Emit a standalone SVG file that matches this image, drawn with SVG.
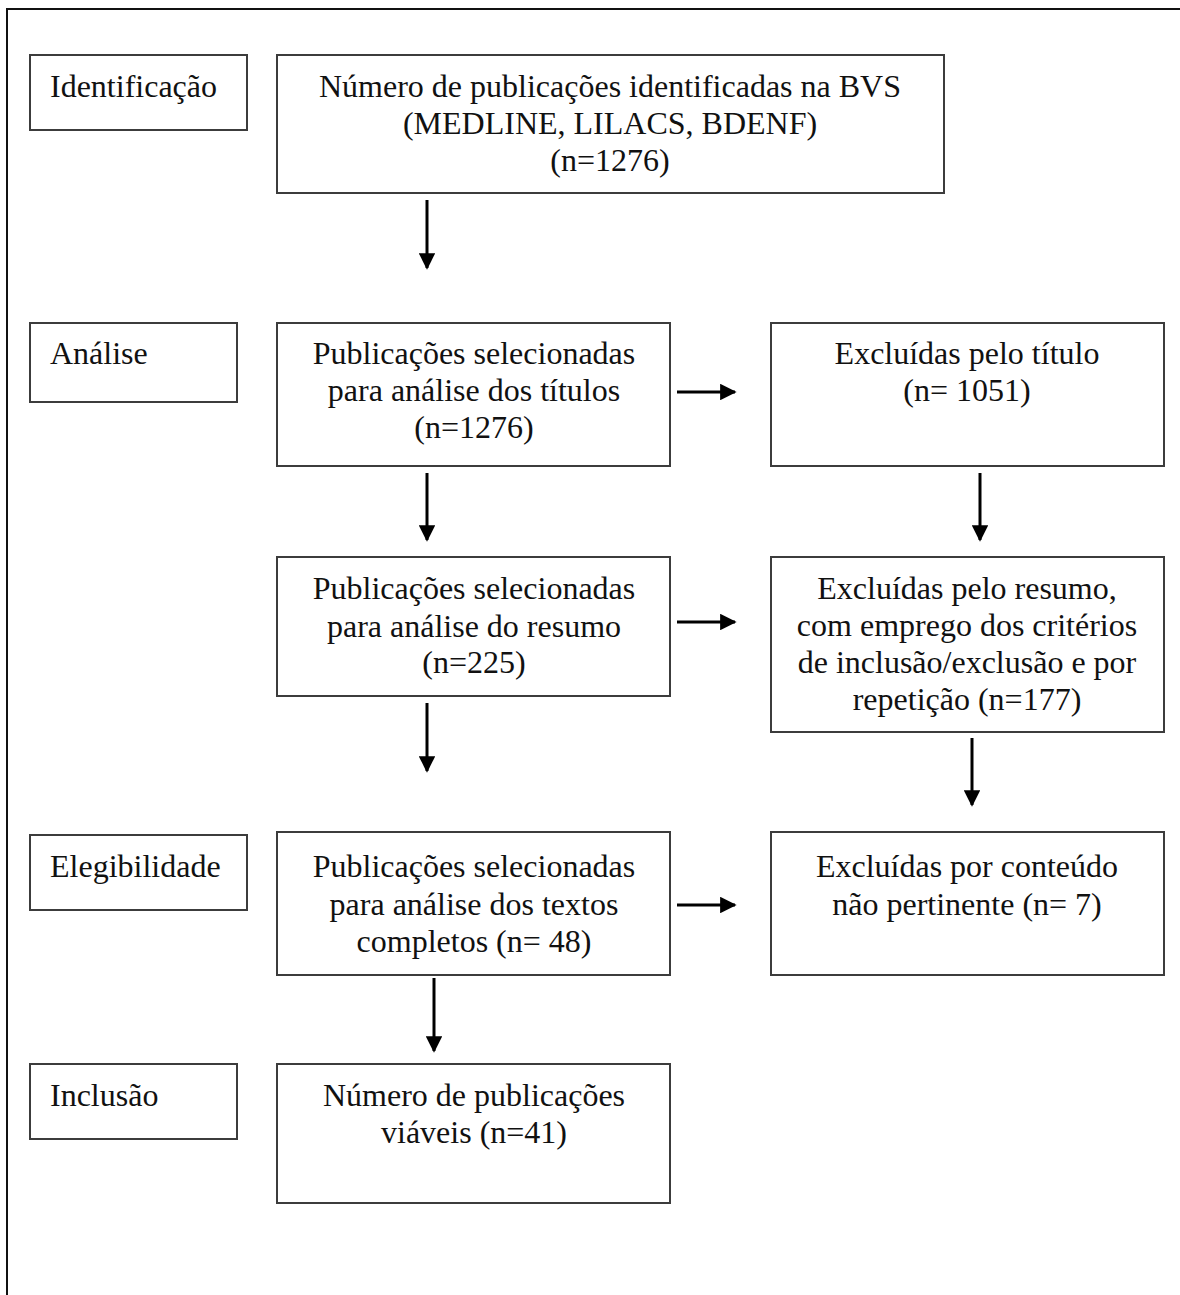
<svg xmlns="http://www.w3.org/2000/svg" width="1180" height="1295" viewBox="0 0 1180 1295">
<style>
.box{fill:#fff;stroke:#3c3c3c;stroke-width:2}
.t{font-family:"Liberation Serif","Times New Roman",serif;font-size:32px;fill:#111}
.c{text-anchor:middle}
.ln{stroke:#000;stroke-width:3;fill:none}
</style>
<defs>
<marker id="ah" viewBox="0 0 10 10" refX="9" refY="5" markerWidth="5.5" markerHeight="5.5" orient="auto" markerUnits="strokeWidth">
<path d="M0,0 L10,5 L0,10 z" fill="#000"/>
</marker>
</defs>
<rect x="0" y="0" width="1180" height="1295" fill="#fff"/>
<rect x="7" y="9" width="1180" height="1300" fill="none" stroke="#111" stroke-width="2"/>

<g id="lbl-identificacao"><rect class="box" x="30" y="55" width="217" height="75"/><text class="t" x="50" y="97">Identificação</text></g>
<g id="lbl-analise"><rect class="box" x="30" y="323" width="207" height="79"/><text class="t" x="50" y="364">Análise</text></g>
<g id="lbl-elegibilidade"><rect class="box" x="30" y="835" width="217" height="75"/><text class="t" x="50" y="877">Elegibilidade</text></g>
<g id="lbl-inclusao"><rect class="box" x="30" y="1064" width="207" height="75"/><text class="t" x="50" y="1106">Inclusão</text></g>

<g id="n-identificadas"><rect class="box" x="277" y="55" width="667" height="138"/>
<text class="t c" x="610" y="97">Número de publicações identificadas na BVS</text>
<text class="t c" x="610" y="134">(MEDLINE, LILACS, BDENF)</text>
<text class="t c" x="610" y="171">(n=1276)</text></g>

<g id="n-titulos"><rect class="box" x="277" y="323" width="393" height="143"/>
<text class="t c" x="474" y="364">Publicações selecionadas</text>
<text class="t c" x="474" y="401">para análise dos títulos</text>
<text class="t c" x="474" y="438">(n=1276)</text></g>

<g id="n-excl-titulo"><rect class="box" x="771" y="323" width="393" height="143"/>
<text class="t c" x="967" y="364">Excluídas pelo título</text>
<text class="t c" x="967" y="401">(n= 1051)</text></g>

<g id="n-resumo"><rect class="box" x="277" y="557" width="393" height="139"/>
<text class="t c" x="474" y="599">Publicações selecionadas</text>
<text class="t c" x="474" y="637">para análise do resumo</text>
<text class="t c" x="474" y="673">(n=225)</text></g>

<g id="n-excl-resumo"><rect class="box" x="771" y="557" width="393" height="175"/>
<text class="t c" x="967" y="599">Excluídas pelo resumo,</text>
<text class="t c" x="967" y="636">com emprego dos critérios</text>
<text class="t c" x="967" y="673">de inclusão/exclusão e por</text>
<text class="t c" x="967" y="710">repetição (n=177)</text></g>

<g id="n-textos"><rect class="box" x="277" y="832" width="393" height="143"/>
<text class="t c" x="474" y="877">Publicações selecionadas</text>
<text class="t c" x="474" y="915">para análise dos textos</text>
<text class="t c" x="474" y="952">completos (n= 48)</text></g>

<g id="n-excl-conteudo"><rect class="box" x="771" y="832" width="393" height="143"/>
<text class="t c" x="967" y="877">Excluídas por conteúdo</text>
<text class="t c" x="967" y="915">não pertinente (n= 7)</text></g>

<g id="n-viaveis"><rect class="box" x="277" y="1064" width="393" height="139"/>
<text class="t c" x="474" y="1106">Número de publicações</text>
<text class="t c" x="474" y="1143">viáveis (n=41)</text></g>

<g id="connectors">
<line class="ln" x1="427" y1="200" x2="427" y2="268" marker-end="url(#ah)"/>
<line class="ln" x1="427" y1="473" x2="427" y2="540" marker-end="url(#ah)"/>
<line class="ln" x1="980" y1="473" x2="980" y2="540" marker-end="url(#ah)"/>
<line class="ln" x1="427" y1="703" x2="427" y2="771" marker-end="url(#ah)"/>
<line class="ln" x1="972" y1="738" x2="972" y2="805" marker-end="url(#ah)"/>
<line class="ln" x1="434" y1="978" x2="434" y2="1051" marker-end="url(#ah)"/>
<line class="ln" x1="677" y1="392" x2="735" y2="392" marker-end="url(#ah)"/>
<line class="ln" x1="677" y1="622" x2="735" y2="622" marker-end="url(#ah)"/>
<line class="ln" x1="677" y1="905" x2="735" y2="905" marker-end="url(#ah)"/>
</g>
</svg>
